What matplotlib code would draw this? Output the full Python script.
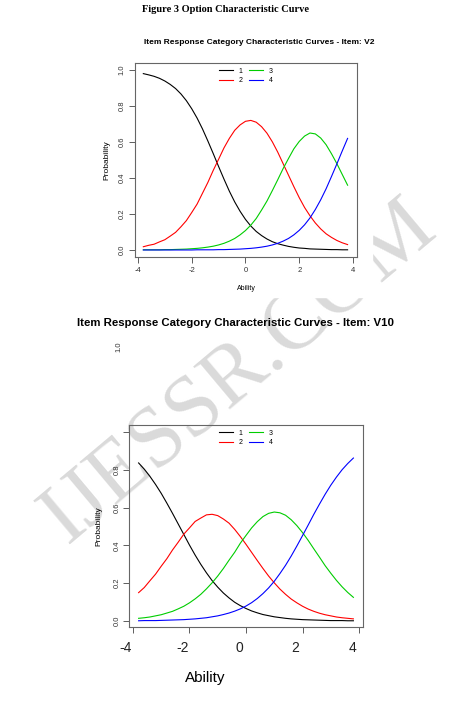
import matplotlib.pyplot as plt
from matplotlib.patches import Rectangle
from matplotlib.transforms import ScaledTranslation

plt.rcParams['font.family'] = ['Liberation Sans', 'DejaVu Sans']
plt.rcParams['axes.unicode_minus'] = False

# ability grid and category probabilities
ability = [-3.8, -3.6, -3.4, -3.2, -3.0, -2.8, -2.6, -2.4, -2.2, -2.0,
           -1.8, -1.6, -1.4, -1.2, -1.0, -0.8, -0.6, -0.4, -0.2, 0.0,
           0.2, 0.4, 0.6, 0.8, 1.0, 1.2, 1.4, 1.6, 1.8, 2.0,
           2.2, 2.4, 2.6, 2.8, 3.0, 3.2, 3.4, 3.6, 3.8]
categories = ['1', '2', '3', '4']
colors = ['black', '#ff0000', '#00cd00', '#0000ff']

v2_cat1 = [0.980, 0.973, 0.965, 0.954, 0.939, 0.920, 0.897, 0.867, 0.830, 0.785,
           0.733, 0.673, 0.606, 0.536, 0.464, 0.394, 0.327, 0.267, 0.215, 0.170,
           0.133, 0.103, 0.080, 0.061, 0.046, 0.035, 0.027, 0.020, 0.015, 0.011,
           0.009, 0.006, 0.005, 0.004, 0.003, 0.002, 0.002, 0.001, 0.001]
v2_cat2 = [0.018, 0.026, 0.032, 0.045, 0.057, 0.077, 0.098, 0.129, 0.163, 0.208,
           0.255, 0.315, 0.375, 0.442, 0.504, 0.567, 0.620, 0.665, 0.695, 0.715,
           0.720, 0.710, 0.685, 0.649, 0.601, 0.544, 0.480, 0.416, 0.352, 0.291,
           0.236, 0.190, 0.150, 0.117, 0.090, 0.070, 0.053, 0.040, 0.030]
v2_cat3 = [0.001, 0.001, 0.001, 0.001, 0.002, 0.002, 0.003, 0.004, 0.005, 0.007,
           0.009, 0.012, 0.016, 0.021, 0.028, 0.037, 0.049, 0.064, 0.084, 0.108,
           0.138, 0.175, 0.222, 0.272, 0.330, 0.390, 0.452, 0.508, 0.562, 0.603,
           0.633, 0.650, 0.645, 0.622, 0.585, 0.535, 0.480, 0.420, 0.360]
v2_cat4 = [0.000, 0.000, 0.000, 0.000, 0.000, 0.000, 0.000, 0.000, 0.000, 0.000,
           0.001, 0.001, 0.001, 0.001, 0.002, 0.002, 0.003, 0.004, 0.005, 0.007,
           0.009, 0.012, 0.016, 0.021, 0.028, 0.037, 0.049, 0.064, 0.084, 0.109,
           0.140, 0.178, 0.225, 0.279, 0.340, 0.408, 0.478, 0.550, 0.620]

v10_cat1 = [0.837, 0.804, 0.766, 0.723, 0.676, 0.624, 0.570, 0.514, 0.458, 0.402,
            0.349, 0.300, 0.255, 0.214, 0.179, 0.148, 0.122, 0.099, 0.081, 0.066,
            0.053, 0.043, 0.034, 0.028, 0.022, 0.018, 0.014, 0.011, 0.009, 0.007,
            0.006, 0.005, 0.004, 0.003, 0.002, 0.002, 0.002, 0.001, 0.001]
v10_cat2 = [0.150, 0.177, 0.213, 0.248, 0.290, 0.330, 0.376, 0.417, 0.460, 0.493,
            0.527, 0.545, 0.562, 0.565, 0.558, 0.540, 0.518, 0.485, 0.447, 0.406,
            0.363, 0.320, 0.278, 0.238, 0.202, 0.169, 0.141, 0.116, 0.096, 0.078,
            0.063, 0.051, 0.041, 0.033, 0.027, 0.021, 0.017, 0.014, 0.011]
v10_cat3 = [0.014, 0.017, 0.021, 0.027, 0.033, 0.042, 0.051, 0.064, 0.078, 0.096,
            0.117, 0.141, 0.170, 0.202, 0.238, 0.278, 0.322, 0.364, 0.412, 0.453,
            0.493, 0.526, 0.553, 0.570, 0.577, 0.573, 0.560, 0.536, 0.505, 0.468,
            0.427, 0.382, 0.338, 0.293, 0.253, 0.215, 0.181, 0.151, 0.125]
v10_cat4 = [0.001, 0.002, 0.002, 0.002, 0.003, 0.004, 0.005, 0.006, 0.007, 0.009,
            0.011, 0.014, 0.017, 0.022, 0.027, 0.034, 0.042, 0.052, 0.064, 0.079,
            0.097, 0.119, 0.145, 0.175, 0.210, 0.251, 0.295, 0.344, 0.397, 0.452,
            0.508, 0.565, 0.619, 0.671, 0.719, 0.762, 0.801, 0.834, 0.863]

xticks = [-4, -2, 0, 2, 4]
yticks = [0.0, 0.2, 0.4, 0.6, 0.8, 1.0]

W, H = 455, 719
fig = plt.figure(figsize=(W / 100, H / 100), dpi=100)


def place(l, t, r, b):
    # pixel box -> figure fraction
    return [l / W, 1 - b / H, (r - l) / W, (b - t) / H]


def curves(ax, series):
    for vals, c, lab in zip(series, colors, categories):
        ax.plot(ability, vals, color=c, lw=0.8, label=lab)
    for s in ax.spines.values():
        s.set_color('#666666')
        s.set_linewidth(0.8)
    ax.set_xticks(xticks)
    ax.set_yticks(yticks)
    ax.tick_params(direction='out', length=4, width=0.6, color='#444444',
                   labelsize=5.5, labelcolor='#333333')
    ax.tick_params(axis='y', labelrotation=90)
    for lab in ax.get_yticklabels():
        lab.set_va('center')
    ax.legend(loc='upper center', ncol=2, frameon=False, fontsize=5,
              handlelength=2.0, handletextpad=0.8, columnspacing=1.0,
              labelspacing=0.3, borderaxespad=0.3)


# watermark, hidden under the first plot's picture
fig.text(240 / W, 1 - 372 / H, 'IJESSR.COM', rotation=40, fontsize=62,
         family='Liberation Serif', color='#dadada', ha='center', va='center',
         rotation_mode='anchor', zorder=0.5)
fig.add_artist(Rectangle((60 / W, 1 - 297 / H), (372 - 60) / W, (297 - 25) / H,
                         transform=fig.transFigure, color='white', zorder=0.7))

fig.text(226 / W, 1 - 9 / H, 'Figure 3 Option Characteristic Curve',
         family='Liberation Serif', weight='bold', fontsize=7.5, ha='center', va='center')

# first plot: V2
ax1 = fig.add_axes(place(135, 63, 357, 257), zorder=1)
curves(ax1, [v2_cat1, v2_cat2, v2_cat3, v2_cat4])
ax1.set_xlim(-4.11, 4.15)
ax1.set_ylim(-0.039, 1.039)
ax1.tick_params(axis='x', pad=3)
ax1.tick_params(axis='y', pad=3)
ax1.set_xlabel('Ability', fontsize=5, labelpad=8)
ax1.set_ylabel('Probability', fontsize=6, labelpad=6)
fig.text(259 / W, 1 - 43 / H, 'Item Response Category Characteristic Curves - Item: V2',
         weight='bold', fontsize=6, ha='center', va='center')

# second plot: V10, watermark shows through it
ax2 = fig.add_axes(place(129, 425, 363, 627), zorder=1)
ax2.set_facecolor('none')
curves(ax2, [v10_cat1, v10_cat2, v10_cat3, v10_cat4])
ax2.set_xlim(-4.14, 4.14)
ax2.set_ylim(-0.032, 1.038)
ax2.set_yticklabels(['0.0', '0.2', '0.4', '0.6', '0.8', ''])
ax2.tick_params(axis='x', labelsize=10, labelcolor='#222222', pad=6)
ax2.tick_params(axis='y', pad=2)
shift = ScaledTranslation(-7 / 100, 0, fig.dpi_scale_trans)
for lab in ax2.get_xticklabels():
    lab.set_transform(lab.get_transform() + shift)
ax2.set_ylabel('Probability', fontsize=6, labelpad=8)
fig.text(205 / W, 1 - 678 / H, 'Ability', fontsize=11, ha='center', va='center')
fig.text(119 / W, 1 - 347 / H, '1.0', fontsize=5.5, color='#333333', rotation=90,
         ha='center', va='center')
fig.text(235.5 / W, 1 - 323 / H, 'Item Response Category Characteristic Curves - Item: V10',
         weight='bold', fontsize=8.2, ha='center', va='center')

fig.savefig('out.png', dpi=100, facecolor='white')
